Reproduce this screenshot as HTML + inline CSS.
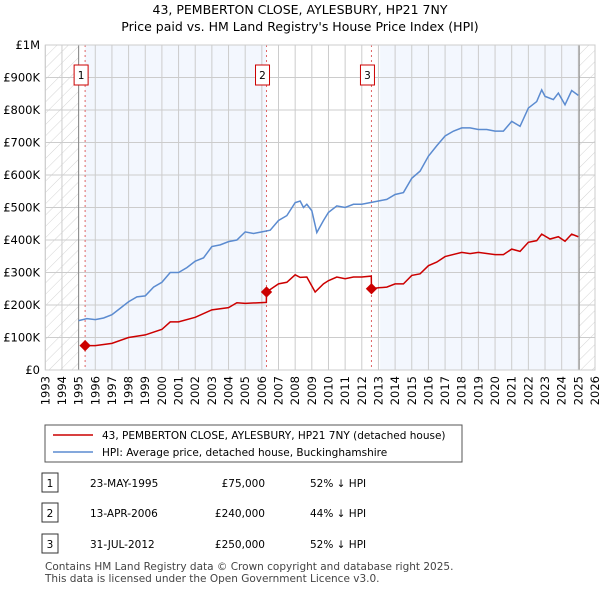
<!DOCTYPE html>
<html><head><meta charset="utf-8">
<style>
body{margin:0;background:#fff;font-family:"Liberation Sans","DejaVu Sans",sans-serif;}
svg text{font-family:"DejaVu Sans","Liberation Sans",sans-serif;}
</style></head>
<body>
<svg id="c" width="600" height="590" viewBox="0 0 600 590">
<defs>
<pattern id="hatch" width="8" height="8" patternUnits="userSpaceOnUse" patternTransform="rotate(45)">
<line x1="0" y1="0" x2="0" y2="8" stroke="#d4d4d4" stroke-width="1"/>
</pattern>
</defs>
<text x="300" y="14" text-anchor="middle" font-size="12.5">43, PEMBERTON CLOSE, AYLESBURY, HP21 7NY</text>
<text x="300" y="31" text-anchor="middle" font-size="12.5">Price paid vs. HM Land Registry's House Price Index (HPI)</text>
<g id="plot"></g>
<g>
<rect x="45" y="425" width="417" height="37" fill="#fff" stroke="#555"/>
<line x1="53" y1="435" x2="93" y2="435" stroke="#cc0000" stroke-width="1.5"/>
<text x="102" y="439" font-size="10.5">43, PEMBERTON CLOSE, AYLESBURY, HP21 7NY (detached house)</text>
<line x1="53" y1="452" x2="93" y2="452" stroke="#5b8bd0" stroke-width="1.5"/>
<text x="102" y="456" font-size="10.5">HPI: Average price, detached house, Buckinghamshire</text>
</g>
<g id="table" font-size="10.5"></g>
<text x="45" y="570" font-size="10.5" fill="#444">Contains HM Land Registry data © Crown copyright and database right 2025.</text>
<text x="45" y="582" font-size="10.5" fill="#444">This data is licensed under the Open Government Licence v3.0.</text>
</svg>
<script>
const hpiYears=[1995.0,1995.5,1996,1996.5,1997,1997.5,1998,1998.5,1999,1999.5,2000,2000.5,2001,2001.5,2002,2002.5,2003,2003.5,2004,2004.5,2005,2005.5,2006,2006.5,2007,2007.5,2008,2008.3,2008.5,2008.7,2009,2009.3,2009.7,2010,2010.5,2011,2011.5,2012,2012.5,2013,2013.5,2014,2014.5,2015,2015.5,2016,2016.5,2017,2017.5,2018,2018.5,2019,2019.5,2020,2020.5,2021,2021.5,2022,2022.5,2022.8,2023,2023.5,2023.8,2024.2,2024.6,2025];
const hpiValues=[152,158,155,160,170,190,210,225,228,255,270,300,300,315,335,345,380,385,395,400,425,420,425,430,460,475,515,520,500,510,490,423,460,485,505,500,510,510,515,520,525,540,546,590,612,658,690,720,735,745,745,740,740,735,735,765,750,806,826,862,842,832,852,816,860,845];
const priceYears=[1995.39,1996,1997,1998,1999,2000,2000.5,2001,2002,2003,2004,2004.5,2005,2006.27,2006.28,2007,2007.5,2008,2008.3,2008.7,2009.2,2009.7,2010,2010.5,2011,2011.5,2012,2012.57,2012.58,2013,2013.5,2014,2014.5,2015,2015.5,2016,2016.5,2017,2018,2018.5,2019,2020,2020.5,2021,2021.5,2022,2022.5,2022.8,2023.3,2023.8,2024.2,2024.6,2025];
const priceValues=[75,75,82,100,108,125,148,148,162,185,192,207,205,208,240,265,270,293,285,286,240,265,275,286,281,286,286,289,250,253,255,265,265,291,296,321,332,349,362,358,362,355,355,372,365,393,398,418,403,410,396,418,410];
const saleYears=[1995.39,2006.28,2012.58];
const saleValues=[75,240,250];
const saleLabels=["1","2","3"];
const saleDates=["23-MAY-1995","13-APR-2006","31-JUL-2012"];
const salePrices=["£75,000","£240,000","£250,000"];
const saleDiffs=["52% ↓ HPI","44% ↓ HPI","52% ↓ HPI"];
const yTicks=[0,100,200,300,400,500,600,700,800,900,1000];
const yTickLabels=["£0","£100K","£200K","£300K","£400K","£500K","£600K","£700K","£800K","£900K","£1M"];

const X0=45.3,X1=595,Y0=370,Y1=45;
const xs=y=>X0+(y-1993)/(2026-1993)*(X1-X0);
const ys=v=>Y0-v/1000*(Y0-Y1);
const NS="http://www.w3.org/2000/svg";
const plot=document.getElementById('plot');
function mk(tag,attrs,parent){const e=document.createElementNS(NS,tag);for(const k in attrs)e.setAttribute(k,attrs[k]);(parent||plot).appendChild(e);return e;}

let r=mk('rect',{x:xs(1993),y:Y1,width:xs(1995)-xs(1993),height:Y0-Y1,fill:'url(#hatch)'});


r=mk('rect',{x:xs(2025.05),y:Y1,width:xs(2026)-xs(2025.05),height:Y0-Y1,fill:'url(#hatch)'});


r=mk('rect',{x:xs(saleYears[0]),y:Y1,width:xs(saleYears[1])-xs(saleYears[0]),height:Y0-Y1,fill:'#f3f7fe'});


r=mk('rect',{x:xs(2013.1),y:Y1,width:xs(2025.05)-xs(2013.1),height:Y0-Y1,fill:'#f3f7fe'});



for(let y=1993;y<=2026;y++){
  let l=mk('line',{x1:xs(y),x2:xs(y),y1:Y1,y2:Y0,stroke:'#ccc','stroke-width':1});
  
  
  let t=mk('text',{x:0,y:0,'font-size':11.5,'text-anchor':'end',transform:`translate(${xs(y)+4},${Y0+6}) rotate(-90)`});
  t.textContent=y;
  
  
}
yTicks.forEach((v,i)=>{
  let l=mk('line',{x1:X0,x2:X1,y1:ys(v),y2:ys(v),stroke:'#ccc','stroke-width':1});
  
  
  let t=mk('text',{x:40,y:ys(v)+4,'font-size':11.5,'text-anchor':'end'});
  t.textContent=yTickLabels[i];
  
  
});
let b=mk('line',{x1:xs(1995),x2:xs(1995),y1:Y1,y2:Y0,stroke:'#888'});


b=mk('line',{x1:xs(2025.05),x2:xs(2025.05),y1:Y1,y2:Y0,stroke:'#888'});



saleYears.forEach((y,i)=>{
  let l=mk('line',{x1:xs(y),x2:xs(y),y1:Y1,y2:Y0,stroke:'#e06666','stroke-dasharray':'2,3','stroke-width':1});
  
  
  let bx=mk('rect',{x:xs(y)-11,y:65,width:14,height:20,fill:'#fff',stroke:'#cc0000'});
  
  
  let t=mk('text',{x:xs(y)-4,y:79,'font-size':10.5,'text-anchor':'middle'});
  t.textContent=saleLabels[i];
  
  
});

let p=mk('polyline',{points:hpiYears.map((y,i)=>xs(y)+','+ys(hpiValues[i])).join(' '),fill:'none',stroke:'#5b8bd0','stroke-width':1.5});


p=mk('polyline',{points:priceYears.map((y,i)=>xs(y)+','+ys(priceValues[i])).join(' '),fill:'none',stroke:'#cc0000','stroke-width':1.5});


saleYears.forEach((y,i)=>{
  let d=mk('rect',{x:xs(y)-4,y:ys(saleValues[i])-4,width:8,height:8,fill:'#cc0000',transform:`rotate(45 ${xs(y)} ${ys(saleValues[i])})`});
  
  
});
mk('rect',{x:X0,y:Y1,width:X1-X0,height:Y0-Y1,fill:'none',stroke:'#ccc'});

const tb=document.getElementById('table');
const rowY=[483,513,544];
saleYears.forEach((y,i)=>{
  let g=mk('g',{},tb);
  
  
  mk('rect',{x:42,y:rowY[i]-10,width:16,height:19,fill:'#fff',stroke:'#333'},g);
  let t=mk('text',{x:50,y:rowY[i]+4,'text-anchor':'middle'},g);t.textContent=saleLabels[i];
  t=mk('text',{x:90,y:rowY[i]+4},g);t.textContent=saleDates[i];
  t=mk('text',{x:265,y:rowY[i]+4,'text-anchor':'end'},g);t.textContent=salePrices[i];
  t=mk('text',{x:310,y:rowY[i]+4},g);t.textContent=saleDiffs[i];
});
</script>
</body></html>
